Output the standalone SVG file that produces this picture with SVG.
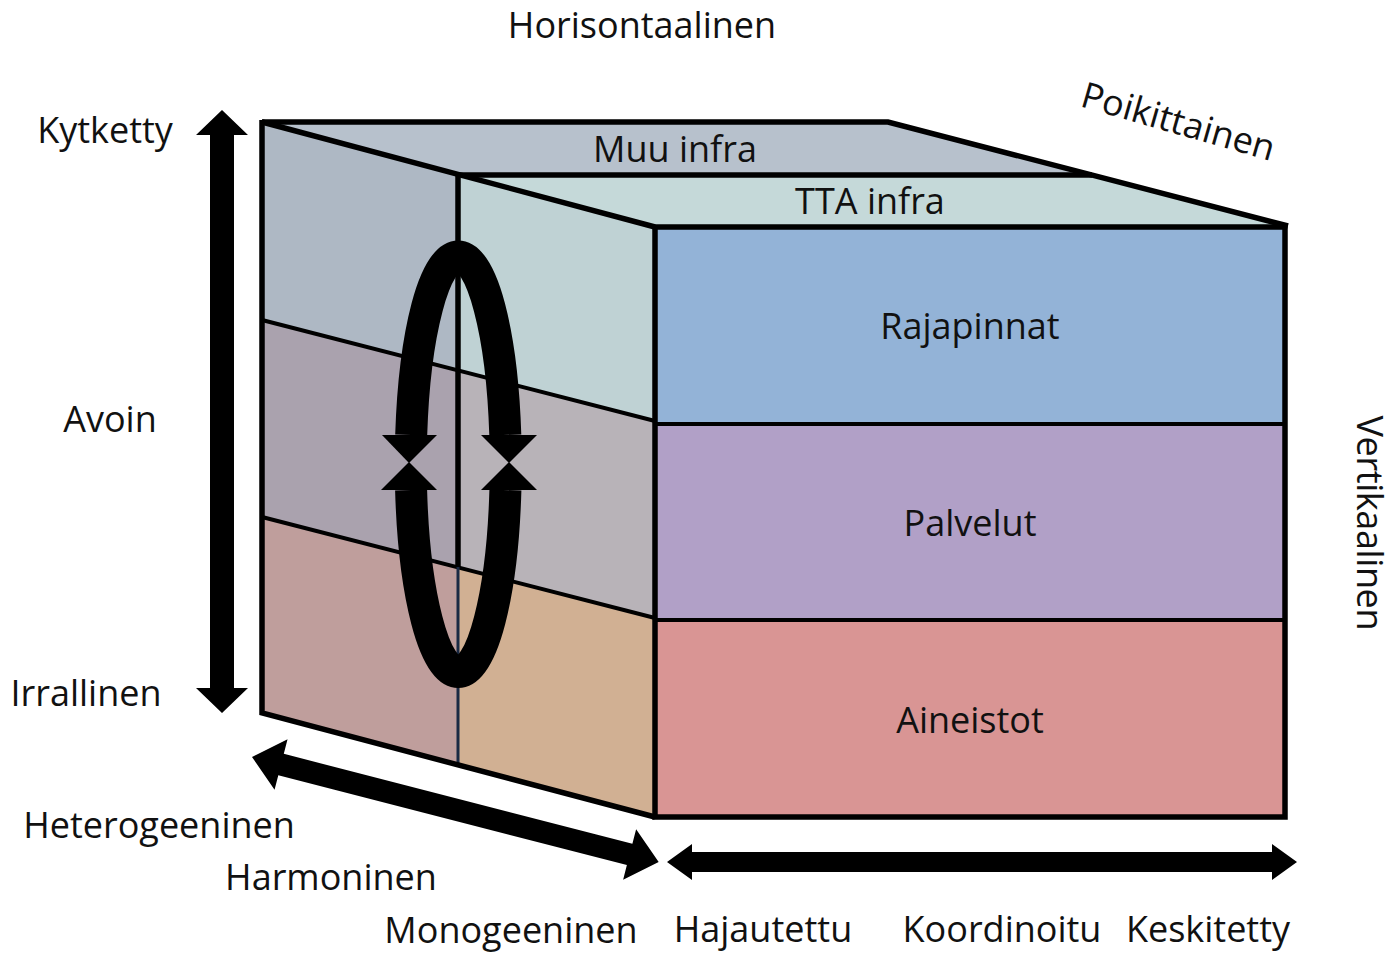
<svg xmlns="http://www.w3.org/2000/svg" width="1395" height="953" viewBox="0 0 1395 953">
<style>
  text { font-family: "Open Sans", "Liberation Sans", sans-serif; font-size: 36px; fill: #111; }
  .edge { stroke: #000; stroke-width: 5.5; fill: none; stroke-linejoin: miter; }
  .div { stroke: #000; stroke-width: 4; fill: none; }
  .arrow { fill: #000; stroke: none; }
</style>
<rect width="1395" height="953" fill="#fff"/>

<g id="top-face">
  <polygon id="muu-infra" points="262,122 888,122 1092,175 458,175" fill="#b7c1cc"/>
  <polygon id="tta-infra" points="458,175 1092,175 1288,227 655,227" fill="#c5d9d9"/>
  <polyline class="edge" points="262,122 888,122 1288,226"/>
  <line class="edge" x1="458" y1="175" x2="1092" y2="175"/>
  <text x="675" y="162" text-anchor="middle">Muu infra</text>
  <text x="870" y="214" text-anchor="middle">TTA infra</text>
</g>

<g id="left-side">
  <polygon points="262,122 458,175 458,370 262,320" fill="#aeb8c4"/>
  <polygon points="458,175 655,227 655,421 458,370" fill="#bfd2d4"/>
  <polygon points="262,320 458,370 458,567 262,517" fill="#aaa2ae"/>
  <polygon points="458,370 655,421 655,618 458,567" fill="#b8b3b8"/>
  <polygon points="262,517 458,567 458,765 262,713" fill="#bf9e9c"/>
  <polygon points="458,567 655,618 655,817 458,765" fill="#d1b093"/>
  <line class="div" x1="262" y1="320" x2="655" y2="421"/>
  <line class="div" x1="262" y1="517" x2="655" y2="618" stroke-width="3"/>
  <line x1="458" y1="567" x2="458" y2="767" stroke="#1a2a44" stroke-width="3"/>
  <line class="edge" x1="458" y1="173" x2="458" y2="567"/>
  <polyline class="edge" points="262,120 262,713 655,817"/>
  <line class="edge" x1="262" y1="122" x2="655" y2="227"/>
</g>

<g id="front-face">
  <g id="rajapinnat">
    <rect x="655" y="227" width="630" height="197" fill="#93b3d7"/>
    <text x="970" y="339" text-anchor="middle">Rajapinnat</text>
  </g>
  <g id="palvelut">
    <rect x="655" y="424" width="630" height="196" fill="#b1a0c7"/>
    <text x="970" y="536" text-anchor="middle">Palvelut</text>
  </g>
  <g id="aineistot">
    <rect x="655" y="620" width="630" height="197" fill="#d99594"/>
    <text x="970" y="733" text-anchor="middle">Aineistot</text>
  </g>
  <line class="div" x1="655" y1="424" x2="1285" y2="424" stroke-width="5"/>
  <line class="div" x1="655" y1="620" x2="1285" y2="620"/>
  <rect class="edge" x="655" y="227" width="630" height="590" stroke-width="6"/>
</g>

<g id="connectors">
  <g id="cycle">
    <path d="M 411.2 435 A 47.5 207 0 0 1 505.3 435" fill="none" stroke="#000" stroke-width="32"/>
    <path d="M 411.1 490 A 47.5 207 0 0 0 505.4 490" fill="none" stroke="#000" stroke-width="32"/>
    <polygon class="arrow" points="382,435 437,435 409,463"/>
    <polygon class="arrow" points="381,490 437,490 409,462"/>
    <polygon class="arrow" points="481,435 537,435 509,463"/>
    <polygon class="arrow" points="481,490 537,490 509,462"/>
  </g>
  <polygon id="arrow-vertical" class="arrow" points="222,110 248,135 234,135 234,688 248,688 222,713 196,688 210,688 210,135 196,135"/>
  <polygon id="arrow-diagonal" class="arrow" transform="translate(252,757) rotate(14.47)" points="0,0 30,-26 30,-11 390,-11 390,-26 420,0 390,26 390,11 30,11 30,26"/>
  <polygon id="arrow-horizontal" class="arrow" points="667,862 692,844 692,852 1272,852 1272,844 1297,862 1272,880 1272,872 692,872 692,880"/>
</g>

<g id="labels">
  <text x="642" y="38" text-anchor="middle">Horisontaalinen</text>
  <text transform="translate(1079,106) rotate(16)">Poikittainen</text>
  <text transform="translate(1357,523) rotate(90)" text-anchor="middle" font-size="34" textLength="215" lengthAdjust="spacing">Vertikaalinen</text>
  <text x="105" y="143" text-anchor="middle">Kytketty</text>
  <text x="110" y="432" text-anchor="middle">Avoin</text>
  <text x="86" y="706" text-anchor="middle">Irrallinen</text>
  <text x="159" y="838" text-anchor="middle">Heterogeeninen</text>
  <text x="331" y="890" text-anchor="middle">Harmoninen</text>
  <text x="511" y="943" text-anchor="middle">Monogeeninen</text>
  <text x="763" y="942" text-anchor="middle">Hajautettu</text>
  <text x="1002" y="942" text-anchor="middle">Koordinoitu</text>
  <text x="1208" y="942" text-anchor="middle">Keskitetty</text>
</g>
</svg>
